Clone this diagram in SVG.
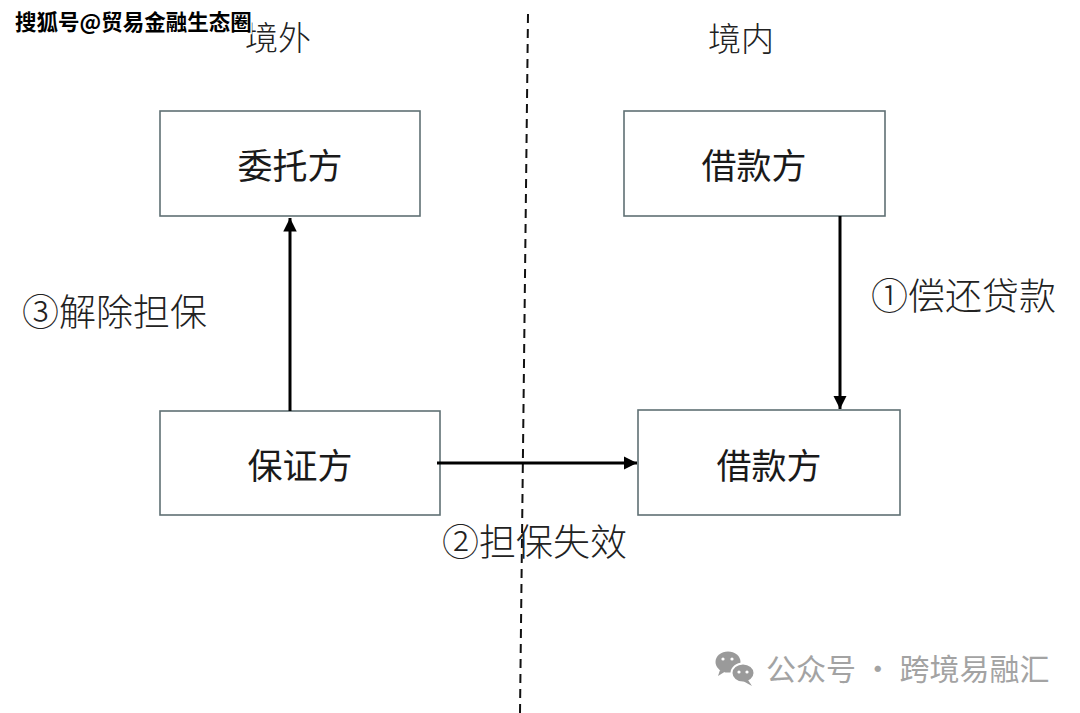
<svg xmlns="http://www.w3.org/2000/svg" width="1080" height="713" viewBox="0 0 1080 713">
<style>
.box{fill:#fff;stroke:#5f7074;stroke-width:1.6}
.nt{font-family:"Noto Sans CJK SC","Noto Sans",sans-serif;font-size:35px;fill:#1a1a1a;text-anchor:middle;dominant-baseline:central}
.lb{font-family:"Noto Sans CJK SC","Noto Sans",sans-serif;font-weight:300;font-size:37px;fill:#222}
.hd{font-family:"Noto Sans CJK SC","Noto Sans",sans-serif;font-weight:300;font-size:33px;fill:#222;text-anchor:middle}
.ar{stroke:#000;stroke-width:3;fill:none}
</style>
<defs>
<marker id="ah" viewBox="0 0 10 10" refX="10" refY="5" markerWidth="4.5" markerHeight="4.5" markerUnits="strokeWidth" orient="auto">
<path d="M0,0 L10,5 L0,10 z" fill="#000"/>
</marker>
</defs>
<rect width="1080" height="713" fill="#fff"/>
<line x1="528" y1="14" x2="520" y2="713" stroke="#111" stroke-width="2" stroke-dasharray="9,6"/>
<text class="hd" x="278" y="50">境外</text>
<text class="hd" x="741" y="51">境内</text>
<g id="n-weituo"><rect class="box" x="160" y="111" width="260" height="105"/><text class="nt" x="290" y="163">委托方</text></g>
<g id="n-jiekuan1"><rect class="box" x="624" y="111" width="261" height="105"/><text class="nt" x="754" y="163">借款方</text></g>
<g id="n-baozheng"><rect class="box" x="160" y="411" width="280" height="104"/><text class="nt" x="300" y="463">保证方</text></g>
<g id="n-jiekuan2"><rect class="box" x="638" y="410" width="262" height="105"/><text class="nt" x="769" y="463">借款方</text></g>
<g id="connectors">
<line class="ar" x1="290" y1="411" x2="290" y2="218" marker-end="url(#ah)"/>
<line class="ar" x1="840" y1="216" x2="840" y2="409" marker-end="url(#ah)"/>
<line class="ar" x1="437" y1="463" x2="637" y2="463" marker-end="url(#ah)"/>
</g>
<text class="lb" x="22" y="326">③解除担保</text>
<text class="lb" x="871" y="310">①偿还贷款</text>
<text class="lb" x="442" y="556">②担保失效</text>
<text x="15" y="30" font-family="Noto Sans CJK SC,sans-serif" font-weight="bold" font-size="21.5" fill="#000" stroke="#fff" stroke-width="3" paint-order="stroke">搜狐号@贸易金融生态圈</text>
<g fill="#9a9a9a">
<ellipse cx="728" cy="662" rx="12.5" ry="10.5"/>
<path d="M720,670 L718,676 L726,671 z"/>
<ellipse cx="743" cy="673" rx="11.5" ry="9.5" stroke="#fff" stroke-width="2"/>
<path d="M748,680 L752,686 L743,681 z"/>
</g>
<circle cx="739" cy="672" r="1.6" fill="#fff"/><circle cx="747" cy="672" r="1.6" fill="#fff"/>
<circle cx="723" cy="659" r="1.6" fill="#fff"/><circle cx="732" cy="659" r="1.6" fill="#fff"/>
<text x="766" y="680" font-family="Noto Sans CJK SC,sans-serif" font-size="30" fill="#a3a3a3">公众号 · 跨境易融汇</text>
</svg>
